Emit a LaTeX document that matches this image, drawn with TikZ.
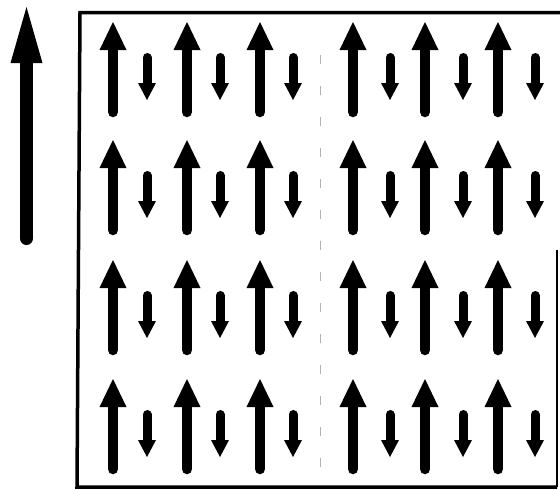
\documentclass[tikz,border=0pt]{standalone}
\newcommand\SpinUp[2]{%
  \draw[line width=10.5pt, line cap=round] (#1,#2+26) -- (#1,#2+90);
  \fill (#1,#2) -- (#1+13.5,#2+28) -- (#1-13.5,#2+28) -- cycle;}
\newcommand\SpinDown[2]{%
  \draw[line width=9pt, line cap=round] (#1,#2+4.5) -- (#1,#2+32);
  \fill (#1,#2+47) -- (#1+9,#2+30) -- (#1-9,#2+30) -- cycle;}
\begin{document}
\begin{tikzpicture}[x=1pt,y=-1pt]
\useasboundingbox (0,0) rectangle (560,490);
% big field arrow
\draw[line width=13pt, line cap=round] (26.5,60) -- (26.5,238.5);
\fill (26.5,7) -- (42.5,63) -- (10.5,63) -- cycle;
% frame
\draw[line width=3.5pt] (560,12.5) -- (80,12.5) -- (77,487) -- (557,487);
\draw[line width=2pt] (557,487) -- (557,250);
\draw[gray!60, line width=0.8pt, dash pattern=on 9pt off 22pt] (320,55) -- (320,480);
% spins
\foreach \y in {22,140,260,379}{
  \foreach \x in {113,187,260,353,425,498}{\SpinUp{\x}{\y}}
  \foreach \x in {147,220,293,390,463,535}{\SpinDown{\x}{\y+31}}
}
\end{tikzpicture}
\end{document}
